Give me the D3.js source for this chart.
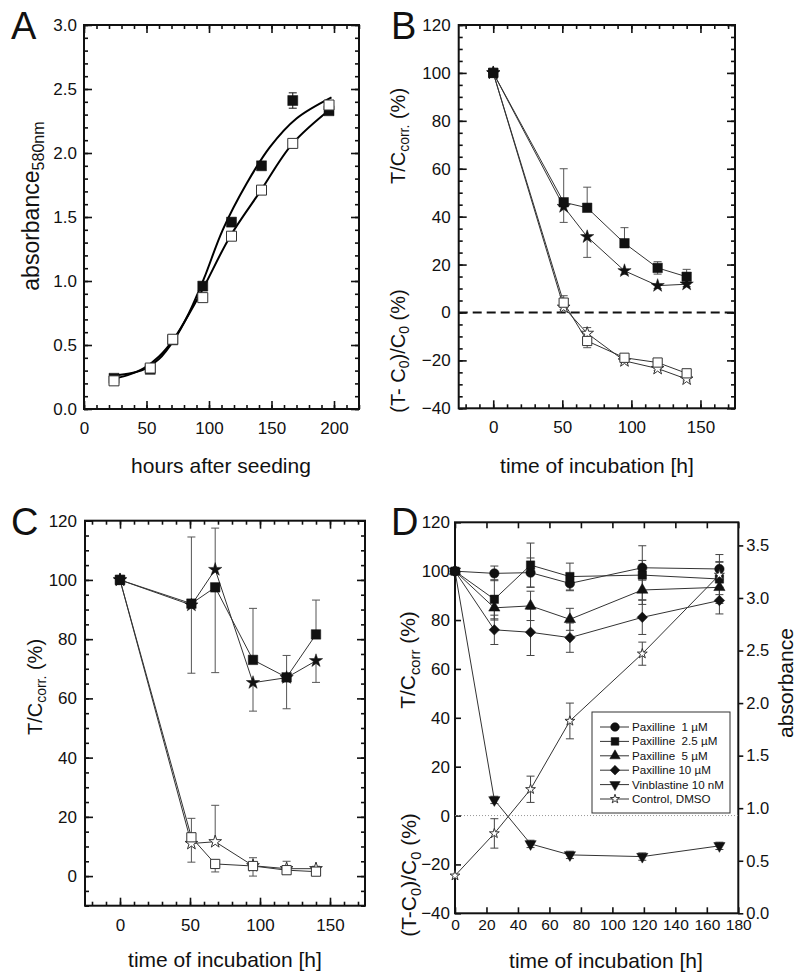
<!DOCTYPE html>
<html>
<head>
<meta charset="utf-8">
<script src="https://cdn.jsdelivr.net/npm/d3@7"></script>
<style>
  body { margin: 0; background: #fff; }
  svg text { font-family: 'Liberation Sans', Arial, sans-serif; fill: #111; white-space: pre; }
</style>
</head>
<body>
<svg id="fig" width="797" height="973"></svg>
<script>
// ---- data ----

// A: growth curves
var aHours = [24, 53, 71, 95, 118, 142, 167, 196];
var aFilled = [0.24, 0.31, 0.54, 0.96, 1.46, 1.90, 2.41, 2.33];
var aFilledErr = [0, 0, 0, 0, 0, 0, 0.06, 0];
var aOpen = [0.22, 0.32, 0.545, 0.87, 1.35, 1.71, 2.075, 2.375];
// fitted curves
var aFitFilledX = [21, 35, 48, 60, 72, 84, 96, 111, 130, 149, 170, 198];
var aFitFilledY = [0.26, 0.275, 0.31, 0.39, 0.54, 0.75, 1.02, 1.40, 1.76, 2.05, 2.27, 2.435];
var aFitOpenX = [21, 35, 48, 60, 72, 93, 117, 141, 167, 198];
var aFitOpenY = [0.23, 0.265, 0.32, 0.41, 0.55, 0.90, 1.35, 1.70, 2.075, 2.35];

// B
var bHours = [0, 51, 68, 95, 119, 140];
var bSqF = [100, 46, 43.7, 28.9, 18.6, 14.9];
var bSqFUp = [0, 14, 8.6, 6.5, 2.6, 3.1];
var bSqFDn = [0, 0, 0, 0, 2.6, 3.1];
var bStarF = [100, 44.2, 31.6, 17.4, 11.2, 11.8];
var bStarFUp = [0, 0, 0, 0, 0, 0];
var bStarFDn = [0, 6.6, 8.6, 1.5, 1.2, 1];
var bSqO = [100, 4.1, -11.9, -18.9, -20.9, -25.4];
var bSqOUp = [0, 2.9, 0, 1, 1, 1];
var bSqODn = [0, 2.9, 2.8, 1, 1, 1];
var bStarO = [100, 2.2, -8.7, -20.2, -23.4, -27.8];
var bStarOUp = [0, 0, 2.4, 0.8, 0.8, 0.8];
var bStarODn = [0, 0, 0, 0.8, 0.8, 0.8];

// C
var cHours = [0, 51, 68, 95, 119, 140];
var cSqF = [100, 92, 97.5, 73, 67.1, 81.6];
var cSqFUp = [0, 22.5, 0, 17.4, 7.4, 11.6];
var cSqFDn = [0, 23.5, 28.8, 0, 10.6, 0];
var cStarF = [100, 91.5, 103.5, 65.3, 67, 72.7];
var cStarFUp = [0, 0, 14, 0, 0, 0];
var cStarFDn = [0, 0, 0, 9.6, 0, 7.3];
var cSqO = [100, 13.1, 4.1, 3.4, 2, 1.5];
var cSqOUp = [0, 6.4, 0, 2.8, 3, 1];
var cSqODn = [0, 0, 2.7, 3.4, 1, 1];
var cStarO = [100, 11, 11.6, 3.5, 2.5, 2.5];
var cStarOUp = [0, 0, 12.3, 0, 0, 0.8];
var cStarODn = [0, 6.3, 0, 0, 0, 0];

// D
var dHours = [0, 25, 48, 73, 119, 168];
var dPax1 = [100, 99.1, 99.4, 95, 101.4, 100.9];
var dPax1Err = [0, 3, 6, 3, 3, 3];
var dPax25 = [100, 88.5, 102.5, 97.8, 98.4, 96.8];
var dPax25Err = [0, 8, 9, 5.5, 12, 10];
var dPax5 = [100, 85, 85.8, 80.3, 92.3, 93.4];
var dPax5Err = [0, 5, 6, 4.5, 4, 3];
var dPax10 = [100, 76, 75, 72.8, 81.1, 88];
var dPax10Err = [0, 6, 9.5, 6, 7, 5.5];
var dVin = [100, 6.4, -11.6, -16.1, -16.8, -12.4];
var dVinErr = [0, 1.5, 1.5, 1.5, 1.5, 1.5];
var dCtrlAbs = [0.358, 0.76, 1.18, 1.83, 2.47, 3.22];
var dCtrlErr = [0, 0.14, 0.125, 0.17, 0.11, 0.12];
var dLegend = ['Paxilline  1 \u00b5M', 'Paxilline  2.5 \u00b5M', 'Paxilline  5 \u00b5M',
               'Paxilline 10 \u00b5M', 'Vinblastine 10 nM', 'Control, DMSO'];

// ---- helpers ----
var svg = d3.select('#fig');
svg.append('rect').attr('width', 797).attr('height', 973).attr('fill', '#fff');

function boxAxes(g, x, y, o) {
  var xr = x.range(), yr = y.range();
  var sides = [
    [d3.axisBottom, x, 'translate(0,' + yr[0] + ')', o.xMajor, o.xMinor, o.xFmt, o.xPad, o.xfs],
    [d3.axisTop, x, 'translate(0,' + yr[1] + ')', o.xMajor, o.xMinor, null, 0],
    [d3.axisLeft, y, 'translate(' + xr[0] + ',0)', o.yMajor, o.yMinor, o.yFmt, o.yPad, o.yfs]
  ];
  if (o.rightTicks !== false) sides.push([d3.axisRight, y, 'translate(' + xr[1] + ',0)', o.yMajor, o.yMinor, null, 0]);
  sides.forEach(function(s) {
    if (s[4]) {
      g.append('g').attr('transform', s[2])
        .call(s[0](s[1]).tickValues(s[4]).tickSize(-o.minor).tickFormat(''));
    }
    var ax = g.append('g').attr('transform', s[2])
      .call(s[0](s[1]).tickValues(s[3]).tickSize(-o.major).tickPadding(s[6]).tickFormat(s[5] || ''));
    ax.attr('font-family', null).attr('font-size', null);
    ax.selectAll('.tick text').attr('font-size', s[7] || 17);
  });
  g.selectAll('.domain').remove();
  g.selectAll('.tick line').attr('stroke', '#111').attr('stroke-width', 1.6);
  g.selectAll('g').attr('font-family', null);
  g.append('rect')
    .attr('x', xr[0]).attr('y', yr[1])
    .attr('width', xr[1] - xr[0]).attr('height', yr[0] - yr[1])
    .attr('fill', 'none').attr('stroke', '#111').attr('stroke-width', 2);
}

function errBars(g, x, y, xs, ys, up, dn, color, cap) {
  var rows = xs.map(function(v, i) { return {x: v, y: ys[i], up: up[i] || 0, dn: dn[i] || 0}; })
    .filter(function(d) { return d.up || d.dn; });
  var eg = g.append('g').attr('stroke', color).attr('stroke-width', 1);
  eg.selectAll(null).data(rows).join('line')
    .attr('x1', function(d) { return x(d.x); }).attr('x2', function(d) { return x(d.x); })
    .attr('y1', function(d) { return y(d.y + d.up); }).attr('y2', function(d) { return y(d.y - d.dn); });
  eg.selectAll(null).data(rows.filter(function(d) { return d.up; })).join('line')
    .attr('x1', function(d) { return x(d.x) - cap; }).attr('x2', function(d) { return x(d.x) + cap; })
    .attr('y1', function(d) { return y(d.y + d.up); }).attr('y2', function(d) { return y(d.y + d.up); });
  eg.selectAll(null).data(rows.filter(function(d) { return d.dn; })).join('line')
    .attr('x1', function(d) { return x(d.x) - cap; }).attr('x2', function(d) { return x(d.x) + cap; })
    .attr('y1', function(d) { return y(d.y - d.dn); }).attr('y2', function(d) { return y(d.y - d.dn); });
}

function polyline(g, x, y, xs, ys, color, width) {
  g.append('path').datum(d3.zip(xs, ys))
    .attr('fill', 'none').attr('stroke', color).attr('stroke-width', width)
    .attr('d', d3.line().x(function(d) { return x(d[0]); }).y(function(d) { return y(d[1]); }));
}

function markers(g, x, y, xs, ys, type, size, filled, rot) {
  var sym = d3.symbol().type(type).size(size);
  g.selectAll(null).data(d3.zip(xs, ys)).join('path')
    .attr('transform', function(d) { return 'translate(' + x(d[0]) + ',' + y(d[1]) + ') rotate(' + (rot || 0) + ')'; })
    .attr('d', sym)
    .attr('fill', filled ? '#111' : '#fff')
    .attr('stroke', filled ? '#111' : '#333')
    .attr('stroke-width', filled ? 0.5 : 1);
}

function label(txt, x, y, size, anchor) {
  return svg.append('text').attr('x', x).attr('y', y).attr('font-size', size)
    .attr('text-anchor', anchor || 'start').text(txt);
}

function yTitle(parts, x, y, size) {
  var t = svg.append('text').attr('transform', 'translate(' + x + ',' + y + ') rotate(-90)')
    .attr('text-anchor', 'middle').attr('font-size', size);
  parts.forEach(function(p) {
    var s = t.append('tspan').text(p[0]);
    if (p[1] === 'sub') s.attr('font-size', size * 0.7).attr('dy', size * 0.22);
    if (p[1] === 'back') s.attr('dy', -size * 0.22);
  });
  return t;
}

function range(a, b, step) { return d3.range(a, b + step / 2, step); }

// ---- panel A ----
var gA = svg.append('g');
var xA = d3.scaleLinear().domain([0, 220]).range([84, 359]);
var yA = d3.scaleLinear().domain([0, 3]).range([409, 25]);
boxAxes(gA, xA, yA, {
  xMajor: range(0, 200, 50), xMinor: range(0, 220, 10), yMajor: range(0, 3, 0.5), yMinor: range(0, 3, 0.1),
  xFmt: d3.format('d'), yFmt: d3.format('.1f'), xPad: 13, yPad: 7, major: 8, minor: 4
});
var lineA = d3.line().curve(d3.curveCatmullRom.alpha(0.5))
  .x(function(d) { return xA(d[0]); }).y(function(d) { return yA(d[1]); });
gA.append('path').datum(d3.zip(aFitFilledX, aFitFilledY)).attr('d', lineA)
  .attr('fill', 'none').attr('stroke', '#000').attr('stroke-width', 2);
gA.append('path').datum(d3.zip(aFitOpenX, aFitOpenY)).attr('d', lineA)
  .attr('fill', 'none').attr('stroke', '#000').attr('stroke-width', 2);
errBars(gA, xA, yA, aHours, aFilled, aFilledErr, aFilledErr, '#111', 4);
markers(gA, xA, yA, aHours, aFilled, d3.symbolSquare, 100, true);
markers(gA, xA, yA, aHours, aOpen, d3.symbolSquare, 100, false);
label('A', 11, 39, 38);
yTitle([['absorbance'], ['580nm', 'sub']], 39, 206, 23);
label('hours after seeding', 221, 473, 21, 'middle');

// ---- panel B ----
var gB = svg.append('g');
var xB = d3.scaleLinear().domain([-25, 175]).range([458.7, 735]);
var yB = d3.scaleLinear().domain([-40, 120]).range([408.3, 25]);
boxAxes(gB, xB, yB, {
  xMajor: range(0, 150, 50), xMinor: range(-20, 170, 10), yMajor: range(-40, 120, 20), yMinor: range(-40, 120, 5),
  xFmt: d3.format('d'), yFmt: d3.format('d'), xPad: 13, yPad: 8, major: 8, minor: 4
});
gB.append('line').attr('x1', xB.range()[0]).attr('x2', xB.range()[1])
  .attr('y1', yB(0)).attr('y2', yB(0))
  .attr('stroke', '#111').attr('stroke-width', 2).attr('stroke-dasharray', '9,5');
polyline(gB, xB, yB, bHours, bSqF, '#333', 1);
polyline(gB, xB, yB, bHours, bStarF, '#333', 1);
polyline(gB, xB, yB, bHours, bSqO, '#333', 1);
polyline(gB, xB, yB, bHours, bStarO, '#333', 1);
errBars(gB, xB, yB, bHours, bSqF, bSqFUp, bSqFDn, '#555', 4);
errBars(gB, xB, yB, bHours, bStarF, bStarFUp, bStarFDn, '#555', 4);
errBars(gB, xB, yB, bHours, bSqO, bSqOUp, bSqODn, '#555', 4);
errBars(gB, xB, yB, bHours, bStarO, bStarOUp, bStarODn, '#555', 4);
markers(gB, xB, yB, bHours, bStarO, d3.symbolStar, 50, false);
markers(gB, xB, yB, bHours, bSqO, d3.symbolSquare, 85, false);
markers(gB, xB, yB, bHours, bStarF, d3.symbolStar, 55, true);
markers(gB, xB, yB, bHours, bSqF, d3.symbolSquare, 90, true);
label('B', 391, 39, 38);
yTitle([['T/C'], ['corr.', 'sub'], [' (%)', 'back']], 405, 136, 20);
yTitle([['(T- C'], ['0', 'sub'], [')/C', 'back'], ['0', 'sub'], [' (%)', 'back']], 405, 351, 20);
label('time of incubation [h]', 597, 473, 21, 'middle');

// ---- panel C ----
var gC = svg.append('g');
var xC = d3.scaleLinear().domain([-25, 175]).range([85, 365]);
var yC = d3.scaleLinear().domain([-10, 120]).range([905.7, 520.7]);
boxAxes(gC, xC, yC, {
  xMajor: range(0, 150, 50), xMinor: range(-20, 170, 10), yMajor: range(0, 120, 20), yMinor: range(-10, 120, 5),
  xFmt: d3.format('d'), yFmt: d3.format('d'), xPad: 13, yPad: 8, major: 8, minor: 4
});
polyline(gC, xC, yC, cHours, cSqF, '#333', 1);
polyline(gC, xC, yC, cHours, cStarF, '#333', 1);
polyline(gC, xC, yC, cHours, cSqO, '#333', 1);
polyline(gC, xC, yC, cHours, cStarO, '#333', 1);
errBars(gC, xC, yC, cHours, cSqF, cSqFUp, cSqFDn, '#555', 4);
errBars(gC, xC, yC, cHours, cStarF, cStarFUp, cStarFDn, '#555', 4);
errBars(gC, xC, yC, cHours, cSqO, cSqOUp, cSqODn, '#555', 4);
errBars(gC, xC, yC, cHours, cStarO, cStarOUp, cStarODn, '#555', 4);
markers(gC, xC, yC, cHours, cStarO, d3.symbolStar, 50, false);
markers(gC, xC, yC, cHours, cSqO, d3.symbolSquare, 85, false);
markers(gC, xC, yC, cHours, cStarF, d3.symbolStar, 55, true);
markers(gC, xC, yC, cHours, cSqF, d3.symbolSquare, 90, true);
label('C', 11, 535, 38);
yTitle([['T/C'], ['corr.', 'sub'], [' (%)', 'back']], 42, 687, 20);
label('time of incubation [h]', 225, 967, 21, 'middle');

// ---- panel D ----
var gD = svg.append('g');
var xD = d3.scaleLinear().domain([0, 180]).range([455, 738.3]);
var yD = d3.scaleLinear().domain([-40, 120]).range([913.3, 522.3]);
var yDR = d3.scaleLinear().domain([0, 3.72]).range([913.3, 522.3]);
boxAxes(gD, xD, yD, {
  xMajor: range(0, 180, 20), yMajor: range(-40, 120, 20),
  xFmt: d3.format('d'), yFmt: d3.format('d'), xPad: 6, yPad: 5, major: 6, minor: 3, rightTicks: false,
  xfs: 15.5, yfs: 17
});
var rAx = gD.append('g').attr('transform', 'translate(' + xD.range()[1] + ',0)')
  .call(d3.axisRight(yDR).tickValues(range(0, 3.5, 0.5)).tickSize(5).tickPadding(3).tickFormat(d3.format('.1f')));
rAx.select('.domain').remove();
rAx.attr('font-family', null).attr('font-size', null);
rAx.selectAll('.tick line').attr('stroke', '#111').attr('stroke-width', 1.6);
rAx.selectAll('.tick text').attr('font-size', 16.5);
gD.append('line').attr('x1', xD.range()[0]).attr('x2', xD.range()[1])
  .attr('y1', yD(0)).attr('y2', yD(0))
  .attr('stroke', '#999').attr('stroke-width', 1).attr('stroke-dasharray', '1,2');

var dSeries = [
  [dPax1, dPax1Err, d3.symbolCircle, 70, true, 0, yD],
  [dPax25, dPax25Err, d3.symbolSquare, 70, true, 0, yD],
  [dPax5, dPax5Err, d3.symbolTriangle, 55, true, 0, yD],
  [dPax10, dPax10Err, d3.symbolSquare, 55, true, 45, yD],
  [dVin, dVinErr, d3.symbolTriangle, 55, true, 180, yD],
  [dCtrlAbs, dCtrlErr, d3.symbolStar, 30, false, 0, yDR]
];
dSeries.forEach(function(s) { polyline(gD, xD, s[6], dHours, s[0], '#333', 1); });
dSeries.forEach(function(s) { errBars(gD, xD, s[6], dHours, s[0], s[1], s[1], '#444', 4); });
dSeries.forEach(function(s) { markers(gD, xD, s[6], dHours, s[0], s[2], s[3], s[4], s[5]); });

// legend
var lg = gD.append('g');
lg.append('rect').attr('x', 592).attr('y', 712).attr('width', 138).attr('height', 101)
  .attr('fill', '#fff').attr('stroke', '#333').attr('stroke-width', 1);
var legRows = lg.selectAll(null).data(dSeries).join('g')
  .attr('transform', function(d, i) { return 'translate(0,' + (727 + i * 14.4) + ')'; });
legRows.append('line').attr('x1', 600).attr('x2', 629).attr('stroke', '#333').attr('stroke-width', 1);
legRows.append('path')
  .attr('transform', function(d) { return 'translate(615,0) rotate(' + d[5] + ')'; })
  .attr('d', function(d) { return d3.symbol().type(d[2]).size(d[3] * 0.85)(); })
  .attr('fill', function(d) { return d[4] ? '#111' : '#fff'; })
  .attr('stroke', function(d) { return d[4] ? '#111' : '#333'; })
  .attr('stroke-width', function(d) { return d[4] ? 0.5 : 1; });
legRows.append('text').attr('x', 632).attr('dy', '0.35em').attr('font-size', 11.6)
  .text(function(d, i) { return dLegend[i]; });

label('D', 391, 535, 38);
yTitle([['T/C'], ['corr', 'sub'], [' (%)', 'back']], 415, 660, 21);
yTitle([['(T-C'], ['0', 'sub'], [')/C', 'back'], ['0', 'sub'], [' (%)', 'back']], 416, 875, 21);
yTitle([['absorbance']], 793, 683, 21);
label('time of incubation [h]', 606, 968, 21, 'middle');
</script>
</body>
</html>
